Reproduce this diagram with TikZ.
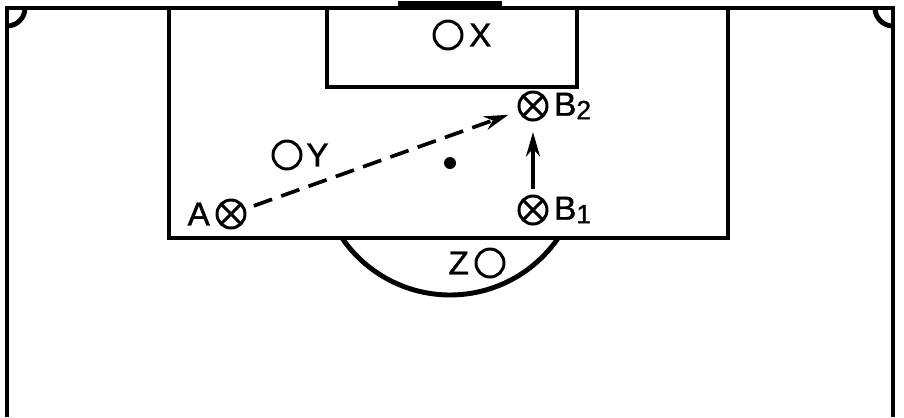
\documentclass[tikz,border=0pt]{standalone}
\usepackage{fontspec}
\setmainfont{Liberation Sans}
\newfontfamily\tagfont{Liberation Sans}[FakeBold=1.2]
\usetikzlibrary{positioning,arrows.meta}
\tikzset{
   field/.style={line width=2.8pt},
   defender/.style={ circle, draw=black, line width=1.7pt, minimum size=0.56cm, inner sep=0pt},
   attacker/.style={ defender, path picture={\draw[line width=1.7pt] (path picture bounding box.north west) -- (path picture bounding box.south east) (path picture bounding box.north east) -- (path picture bounding box.south west);}},
   tag/.style={ font=\tagfont\fontsize{19}{21}\selectfont, inner sep=0pt},
   passline/.style={->, line width=2.1pt, dash pattern=on 11pt off 5.5pt},
   runline/.style={->, line width=2.1pt},
   >={Stealth[length=14pt,width=8pt]}
}
\newcommand\lowidx[1]{\raisebox{-2pt}{\fontsize{15}{16}\selectfont #1}}

\begin{document}
\begin{tikzpicture}[x=0.02cm,y=-0.02cm]
  \useasboundingbox (0,0) rectangle (904,417);

  %% pitch
  \draw[field] (7,417) -- (7,8) -- (893,8) -- (893,417);
  \fill (398,1) rectangle (502,8);
  \draw[field] (169,8) -- (169,238) -- (728,238) -- (728,8);
  \draw[field] (327,8) -- (327,87) -- (577,87) -- (577,8);
  \draw[field] (7,26) arc[start angle=90, end angle=0, radius=18];
  \draw[field] (875,8) arc[start angle=180, end angle=90, radius=18];
  \draw[field] (342,238) arc[start angle=145.6, end angle=34.4, radius=131];
  \fill (450,163) circle[radius=6];

  %% players
  \node[attacker] at (231,214) (a)  {};
  \node[attacker] at (533,210) (b1) {};
  \node[attacker] at (533,106) (b2) {};
  \node[defender] at (448,35)  (x)  {};
  \node[defender] at (287,155) (y)  {};
  \node[defender] at (490,263) (z)  {};

  \node[tag, left=3pt of a]   (a label)  {A};
  \node[tag, right=3pt of b1] (b1 label) {B\lowidx{1}};
  \node[tag, right=3pt of b2] (b2 label) {B\lowidx{2}};
  \node[tag, right=3pt of x]  (x label)  {X};
  \node[tag, right=2pt of y]  (y label)  {Y};
  \node[tag, left=3pt of z]   (z label)  {Z};

  %% moves
  \draw[passline, shorten <=5pt, shorten >=6pt] (a) -- (b2);
  \draw[runline, shorten <=3pt, shorten >=6pt] (b1) -- (b2);

\end{tikzpicture}
\end{document}
